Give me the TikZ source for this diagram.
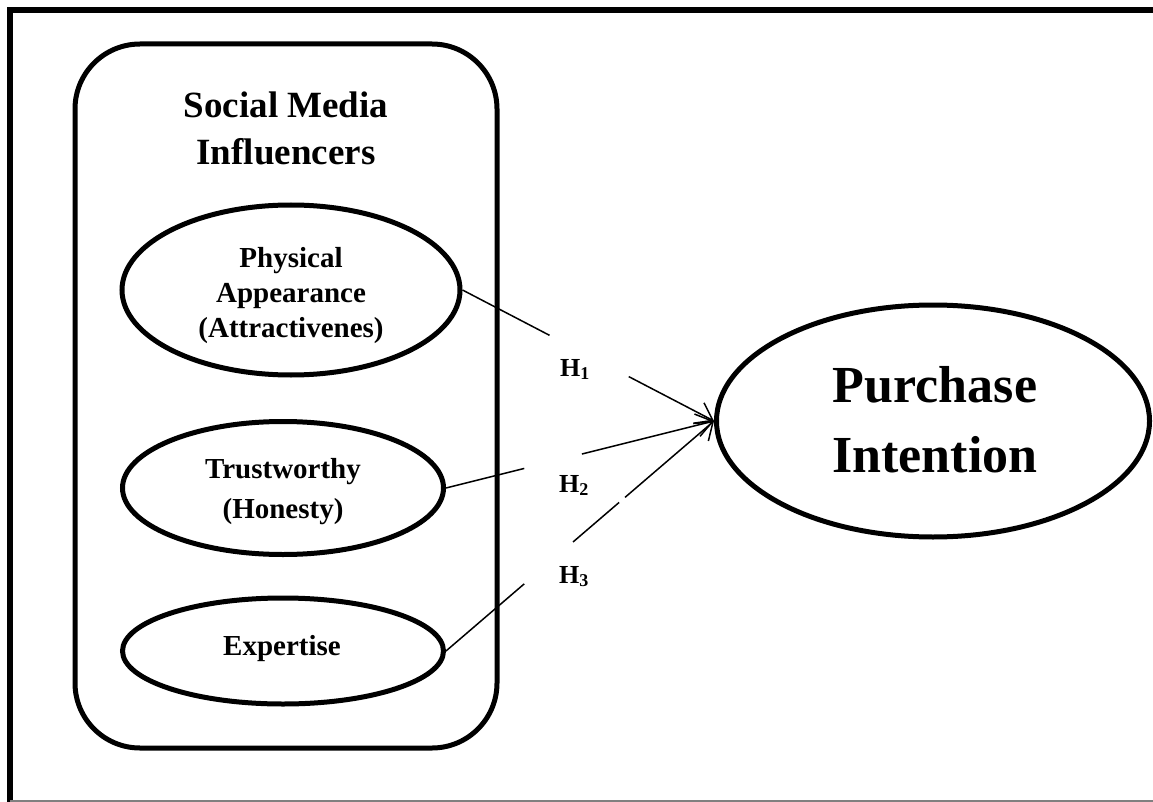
\documentclass[tikz,border=0pt]{standalone}
\usepackage{fontspec}
\setmainfont{Liberation Serif}
\usetikzlibrary{shapes.geometric,arrows.meta,calc}
\newcommand{\hsub}[1]{\raisebox{-3.5pt}{\fontsize{18}{18}\selectfont #1}}
\begin{document}
\begin{tikzpicture}[x=1pt,y=-1pt,
  ell/.style={draw, ellipse, line width=5pt, inner sep=0pt},
  txt/.style={align=center, inner sep=0pt},
  conn/.style={line width=1.5pt},
  tip/.style={-{Straight Barb[length=16pt,width=23pt]}},
  hlab/.style={font=\fontsize{26}{30}\selectfont\bfseries, inner sep=0pt, anchor=base west}]
\useasboundingbox (0,0) rectangle (1153,802);
% outer frame
\draw[line width=5.5pt] (1153,10) -- (10,10) -- (10,802);
\draw[gray, line width=1.5pt] (10,801) -- (1153,801);
% container
\node[draw, line width=5pt, rounded corners=65pt, minimum width=422pt, minimum height=704pt, inner sep=0pt] (box) at (286,396) {};
\node[txt, font=\fontsize{37}{47}\selectfont\bfseries] (title) at (286,128) {Social Media\\Influencers};
% ellipses
\node[ell, minimum width=338pt, minimum height=170pt] (pa) at (291,290) {};
\node[txt, font=\fontsize{29}{35}\selectfont\bfseries] (pat) at (291,296) {Physical\\Appearance\\(Attractivenes)};
\node[ell, minimum width=321pt, minimum height=133pt] (tw) at (283,488) {};
\node[txt, font=\fontsize{29}{40}\selectfont\bfseries] (twt) at (283,492) {Trustworthy\\(Honesty)};
\node[ell, minimum width=321pt, minimum height=106pt] (ex) at (283,651) {};
\node[txt, font=\fontsize{29}{35}\selectfont\bfseries] (ext) at (282,648.5) {Expertise};
\node[ell, minimum width=433pt, minimum height=232pt] (pi) at (933,421) {};
\node[txt, font=\fontsize{52}{70}\selectfont\bfseries] (pit) at (935,419.5) {Purchase\\Intention};
% hypothesis labels
\node[hlab] (h1) at (560,376) {H\hsub{1}};
\node[hlab] (h2) at (559,492) {H\hsub{2}};
\node[hlab] (h3) at (559,583) {H\hsub{3}};
% connectors (broken where the labels sit)
\draw[conn] (pa.east) -- ($(pa.east)!0.346!(pi.west)$);
\draw[conn, tip] ($(pa.east)!0.661!(pi.west)$) -- (pi.west);
\draw[conn] (tw.east) -- ($(tw.east)!0.292!(pi.west)$);
\draw[conn, tip] ($(tw.east)!0.507!(pi.west)$) -- (pi.west);
\draw[conn] (ex.east) -- ($(ex.east)!0.292!(pi.west)$);
\draw[conn] ($(ex.east)!0.474!(pi.west)$) -- ($(ex.east)!0.646!(pi.west)$);
\draw[conn, tip] ($(ex.east)!0.668!(pi.west)$) -- (pi.west);
\end{tikzpicture}
\end{document}
